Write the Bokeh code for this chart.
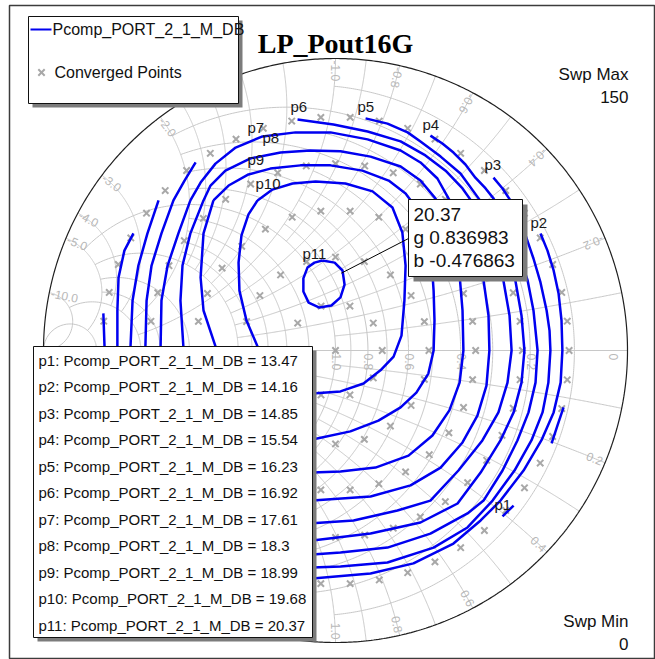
import math
import numpy as np
from bokeh.plotting import figure
from bokeh.models import Range1d
from bokeh.core.properties import value
from bokeh.embed import file_html
from bokeh.resources import INLINE

# ---------------- data (reflection-coefficient plane) ----------------
title_text = "LP_Pout16G"
series_name = "Pcomp_PORT_2_1_M_DB"
contour_labels = ["p1", "p2", "p3", "p4", "p5", "p6", "p7", "p8", "p9", "p10", "p11"]
contour_levels = [13.47, 14.16, 14.85, 15.54, 16.23, 16.92, 17.61, 18.3, 18.99, 19.68, 20.37]
nan = float("nan")

p1_re = [0.572, 0.610, nan, 0.781, 0.760, 0.740]
p1_im = [-0.568, -0.531, nan, -0.195, -0.257, -0.318]

p2_re = [0.702, 0.726, 0.747, 0.764, 0.774, 0.777, 0.771, 0.747, 0.705, 0.644, 0.565, 0.497, 0.404, 0.267, 0.120, -0.079, -0.154]
p2_im = [0.401, 0.342, 0.274, 0.195, 0.103, 0.0, -0.110, -0.212, -0.308, -0.411, -0.514, -0.582, -0.661, -0.729, -0.764, -0.781, -0.788]

p3_re = [0.541, 0.572, 0.599, 0.627, 0.651, 0.678, 0.702, 0.723, 0.733, 0.736, 0.729, 0.709, 0.671, 0.613, 0.538, 0.452, 0.336, 0.178, 0.017, -0.079, -0.291, -0.634, -0.771, -0.791, -0.795]
p3_im = [0.592, 0.555, 0.514, 0.462, 0.394, 0.315, 0.233, 0.137, 0.068, 0.0, -0.110, -0.212, -0.308, -0.411, -0.514, -0.606, -0.675, -0.726, -0.740, -0.743, -0.719, -0.445, -0.171, 0.014, 0.127]

p4_re = [0.325, 0.366, 0.404, 0.445, 0.479, 0.514, 0.541, 0.572, 0.599, 0.627, 0.658, 0.678, 0.692, 0.685, 0.661, 0.623, 0.572, 0.507, 0.452, 0.325, 0.178, 0.017, -0.079, -0.291, -0.634, -0.736, -0.747, -0.747, -0.743, -0.723, -0.692]
p4_im = [0.736, 0.709, 0.678, 0.637, 0.592, 0.555, 0.521, 0.462, 0.401, 0.332, 0.240, 0.137, 0.0, -0.110, -0.212, -0.308, -0.411, -0.514, -0.558, -0.627, -0.675, -0.692, -0.699, -0.678, -0.411, -0.171, 0.014, 0.137, 0.250, 0.342, 0.401]

p5_re = [0.103, 0.178, 0.247, 0.291, 0.360, 0.428, 0.490, 0.531, 0.555, 0.589, 0.616, 0.637, 0.647, 0.637, 0.610, 0.565, 0.497, 0.418, 0.291, 0.120, -0.079, -0.291, -0.599, -0.692, -0.702, -0.695, -0.675, -0.644, -0.606]
p5_im = [0.795, 0.777, 0.747, 0.716, 0.664, 0.606, 0.521, 0.462, 0.401, 0.325, 0.240, 0.120, 0.0, -0.110, -0.212, -0.308, -0.418, -0.524, -0.589, -0.627, -0.651, -0.634, -0.394, -0.171, 0.014, 0.171, 0.291, 0.401, 0.514]

p6_re = [-0.130, -0.007, 0.110, 0.223, 0.308, 0.377, 0.435, 0.476, 0.514, 0.548, 0.575, 0.596, 0.603, 0.589, 0.558, 0.503, 0.421, 0.325, 0.212, 0.062, -0.079, -0.291, -0.565, -0.644, -0.651, -0.647, -0.630, -0.596, -0.555, -0.517, -0.479]
p6_im = [0.791, 0.774, 0.750, 0.716, 0.668, 0.616, 0.555, 0.497, 0.401, 0.325, 0.240, 0.120, 0.0, -0.110, -0.212, -0.308, -0.411, -0.514, -0.548, -0.582, -0.592, -0.575, -0.360, -0.171, 0.014, 0.171, 0.291, 0.401, 0.514, 0.582, 0.644]

p7_re = [-0.497, -0.462, -0.411, -0.342, -0.250, -0.137, -0.017, 0.110, 0.223, 0.291, 0.349, 0.387, 0.421, 0.452, 0.479, 0.507, 0.524, 0.527, 0.517, 0.486, 0.435, 0.360, 0.257, 0.120, -0.079, -0.291, -0.514, -0.592, -0.599, -0.596, -0.575, -0.538, -0.497]
p7_im = [0.514, 0.575, 0.640, 0.695, 0.733, 0.747, 0.747, 0.723, 0.685, 0.644, 0.589, 0.521, 0.462, 0.394, 0.325, 0.240, 0.120, 0.0, -0.120, -0.223, -0.315, -0.401, -0.462, -0.500, -0.514, -0.497, -0.308, -0.137, 0.014, 0.171, 0.291, 0.401, 0.514]

p8_re = [-0.452, -0.428, -0.377, -0.291, -0.188, -0.086, 0.017, 0.120, 0.223, 0.291, 0.342, 0.377, 0.404, 0.425, 0.435, 0.438, 0.425, 0.390, 0.332, 0.250, 0.137, 0.017, -0.079, -0.291, -0.462, -0.514, -0.521, -0.531, -0.524, -0.497, -0.452]
p8_im = [0.514, 0.565, 0.616, 0.658, 0.678, 0.685, 0.682, 0.664, 0.630, 0.582, 0.521, 0.445, 0.360, 0.257, 0.137, 0.0, -0.110, -0.205, -0.291, -0.360, -0.401, -0.414, -0.418, -0.411, -0.240, -0.103, 0.014, 0.171, 0.291, 0.401, 0.514]

p9_re = [-0.418, -0.366, -0.298, -0.223, -0.120, -0.017, 0.092, 0.182, 0.240, 0.284, 0.312, 0.329, 0.336, 0.339, 0.336, 0.318, 0.277, 0.223, 0.147, 0.051, -0.079, -0.257, -0.377, -0.411, -0.452, -0.462, -0.452, -0.418]
p9_im = [0.514, 0.565, 0.603, 0.623, 0.634, 0.634, 0.616, 0.582, 0.538, 0.479, 0.394, 0.308, 0.205, 0.103, 0.0, -0.079, -0.144, -0.195, -0.240, -0.277, -0.305, -0.240, -0.103, 0.014, 0.137, 0.250, 0.401, 0.514]

p10_re = [-0.267, -0.216, -0.147, -0.068, 0.034, 0.127, 0.195, 0.229, 0.240, 0.236, 0.226, 0.199, 0.154, 0.096, 0.017, -0.079, -0.171, -0.240, -0.267, -0.305, -0.329, -0.332, -0.322, -0.298, -0.267]
p10_im = [0.514, 0.551, 0.572, 0.579, 0.572, 0.545, 0.490, 0.404, 0.291, 0.171, 0.051, -0.021, -0.068, -0.113, -0.140, -0.147, -0.137, -0.068, 0.014, 0.103, 0.205, 0.301, 0.394, 0.466, 0.514]

p11_re = [-0.045, -0.003, 0.024, 0.031, 0.017, -0.014, -0.055, -0.092, -0.110, -0.110, -0.096, -0.072, -0.045]
p11_im = [0.308, 0.301, 0.274, 0.226, 0.182, 0.154, 0.147, 0.164, 0.202, 0.247, 0.284, 0.301, 0.308]

# converged load-pull points: |Gamma| of each ring and number of points on it
ring_mag = [0.0, 0.16, 0.32, 0.48, 0.64, 0.80]
ring_count = [1, 10, 20, 30, 40, 50]
sweep_min, sweep_max = 0, 150

# marker read-out
marker_level = 20.37
marker_g = 0.836983
marker_b = -0.476863

# Smith (admittance) chart grid values and labels
grid_values = [0.1, 0.2, 0.3, 0.4, 0.5, 0.6, 0.7, 0.8, 0.9, 1.0, 1.2, 1.4, 1.6, 1.8, 2.0, 3.0, 4.0, 5.0, 10.0]
grid_limits = [1, 2, 1, 2, 1, 2, 1, 2, 1, 5, 2, 2, 2, 2, 5, 5, 5, 10, math.inf]
b_tick_values = [0.2, 0.4, 0.6, 0.8, 1.0, 2.0, 3.0, 4.0, 5.0, 10.0]
g_tick_values = [0.0, 0.2, 0.4, 0.6, 0.8, 1.0, 2.0, 3.0, 4.0, 5.0, 10.0]

contours_re = [p1_re, p2_re, p3_re, p4_re, p5_re, p6_re, p7_re, p8_re, p9_re, p10_re, p11_re]
contours_im = [p1_im, p2_im, p3_im, p4_im, p5_im, p6_im, p7_im, p8_im, p9_im, p10_im, p11_im]

# ---------------- layout helpers (page pixels -> chart units) ----------------
CX, CY, R = 335.0, 350.0, 292.0


def sx(px):
    return (px - CX) / R


def sy(py):
    return (CY - py) / R


def y2g(g, b):
    y = g + 1j * b
    return (1 - y) / (1 + y)


W, H = 655, 659
FL, FT = 9, 5  # frame left / top on the page
p = figure(width=W, height=H, output_backend="svg", toolbar_location=None,
           x_axis_type=None, y_axis_type=None, title=None,
           x_range=Range1d(sx(FL), sx(W)), y_range=Range1d(sy(H), sy(FT)),
           min_border_left=FL, min_border_right=0, min_border_top=FT, min_border_bottom=0,
           background_fill_color="white", border_fill_color="white",
           outline_line_color="#3c3c3c", outline_line_width=1.5)

SANS = value("Liberation Sans")
GRID = "#c8c8c8"

# ---------------- Smith chart grid ----------------
gx, gy = [], []
for gv, lim in zip(grid_values, grid_limits):
    tmax = math.atan(lim) if lim != math.inf else math.pi / 2 - 1e-4
    t = np.linspace(-tmax, tmax, 400)
    G = y2g(gv, np.tan(t))
    gx.append(G.real.tolist())
    gy.append(G.imag.tolist())
for bv, lim in zip(grid_values, grid_limits):
    tmax = math.atan(lim) if lim != math.inf else math.pi / 2 - 1e-4
    t = np.linspace(0, tmax, 300)
    for s in (1, -1):
        G = y2g(np.tan(t), s * bv)
        gx.append(G.real.tolist())
        gy.append(G.imag.tolist())
gx.append([-1.0, 1.0])
gy.append([0.0, 0.0])
p.multi_line(xs=gx, ys=gy, line_color=GRID, line_width=1)

phi = np.linspace(0, 2 * math.pi, 721)
p.line(np.cos(phi), np.sin(phi), line_color="#202020", line_width=1.2)

# grid labels
tx, ty, tt, ta = [], [], [], []
for b in b_tick_values:
    G = complex(y2g(0.0, -b))
    th = math.atan2(G.imag, G.real)
    r = 1 - 2 / R
    tx.append(r * math.cos(th)); ty.append(r * math.sin(th))
    tt.append(f"{-b:.1f}"); ta.append(th + math.pi)
p.text(tx, ty, tt, angle=ta, text_font=SANS, text_font_size="12px", text_color="#b8b8b8",
       text_align="left", text_baseline="alphabetic")

bx, by, bt, ba = [], [], [], []
for b in b_tick_values:
    G = complex(y2g(0.0, b))
    th = math.atan2(G.imag, G.real)
    r = 1 - 3 / R
    bx.append(r * math.cos(th)); by.append(r * math.sin(th))
    bt.append(f"{b:.1f}"); ba.append(th)
p.text(bx, by, bt, angle=ba, text_font=SANS, text_font_size="12px", text_color="#b8b8b8",
       text_align="right", text_baseline="alphabetic")

ax_, ay_, at_ = [], [], []
for g in g_tick_values:
    xr = (1 - g) / (1 + g)
    ax_.append(xr + 1 / R if g > 0 else 1 - 14 / R)
    ay_.append(-3 / R)
    at_.append("0" if g == 0 else f"{g:.1f}")
p.text(ax_, ay_, at_, angle=-math.pi / 2, text_font=SANS, text_font_size="12px",
       text_color="#b8b8b8", text_align="left", text_baseline="alphabetic")

# ---------------- converged points ----------------
cp_re, cp_im = [], []
for mag, n in zip(ring_mag, ring_count):
    for m in range(n):
        a = 2 * math.pi * m / n
        cp_re.append(mag * math.cos(a))
        cp_im.append(mag * math.sin(a))
p.scatter(cp_re, cp_im, marker="x", size=9, line_color="#a8a8a8", line_width=2)

# ---------------- contours ----------------
BLUE = "#0000f0"
for cre, cim in zip(contours_re, contours_im):
    p.line(cre, cim, line_color=BLUE, line_width=2.5, line_join="round")

label_pos = [(494, 504), (530, 222), (484, 164), (422, 124), (357, 106), (290, 106),
             (247, 127), (262, 137), (247, 159), (255, 183), (302, 253)]
p.text([sx(a) for a, _ in label_pos], [sy(b) for _, b in label_pos], contour_labels,
       text_font=SANS, text_font_size="15px", text_color="#1a1a1a",
       text_align="left", text_baseline="alphabetic")

# marker read-out leader line
Gm = complex(y2g(marker_g, marker_b))
p.line([sx(408), Gm.real], [sy(238), Gm.imag], line_color="black", line_width=1)


def box(x0, y0, x1, y1, sh):
    p.quad(left=[sx(x0 + sh)], right=[sx(x1 + sh)], top=[sy(y0 + sh)], bottom=[sy(y1 + sh)],
           fill_color="#7c7c7c", line_color=None)
    p.quad(left=[sx(x0)], right=[sx(x1)], top=[sy(y0)], bottom=[sy(y1)],
           fill_color="white", line_color="#111111", line_width=1)


box(28, 16, 238, 103, 4)
box(408, 199, 522, 276, 5)
box(33, 346, 312, 637, 4)

# legend
p.line([sx(30), sx(51)], [sy(29), sy(29)], line_color=BLUE, line_width=2)
p.text([sx(52)], [sy(29)], [series_name], text_font=SANS, text_font_size="16px",
       text_color="#111111", text_align="left", text_baseline="middle")
p.scatter([sx(41)], [sy(72)], marker="x", size=9, line_color="#a8a8a8", line_width=2)
p.text([sx(54)], [sy(72)], ["Converged Points"], text_font=SANS, text_font_size="16px",
       text_color="#111111", text_align="left", text_baseline="middle")

# statistics box
st = [f"{lab}: {series_name} = {lev}" for lab, lev in zip(contour_labels, contour_levels)]
p.text([sx(38)] * len(st), [sy(359.5 + 26.5 * k) for k in range(len(st))], st,
       text_font=SANS, text_font_size="15px", text_color="#111111",
       text_align="left", text_baseline="middle")

# marker read-out box
mt = [f"{marker_level}", f"g {marker_g}", f"b {marker_b}"]
p.text([sx(413)] * 3, [sy(214), sy(237), sy(260)], mt, text_font=SANS, text_font_size="19px",
       text_color="#111111", text_align="left", text_baseline="middle")

# title and sweep annotations
p.text([sx(335)], [sy(43)], [title_text], text_font=value("Liberation Serif"),
       text_font_style="bold", text_font_size="28px", text_color="black",
       text_align="center", text_baseline="alphabetic")
p.text([sx(628)] * 4, [sy(74), sy(96), sy(621), sy(643)],
       ["Swp Max", f"{sweep_max}", "Swp Min", f"{sweep_min}"],
       text_font=SANS, text_font_size="17px", text_color="#111111",
       text_align="right", text_baseline="alphabetic")

open("out.html", "w").write(file_html(p, INLINE))
